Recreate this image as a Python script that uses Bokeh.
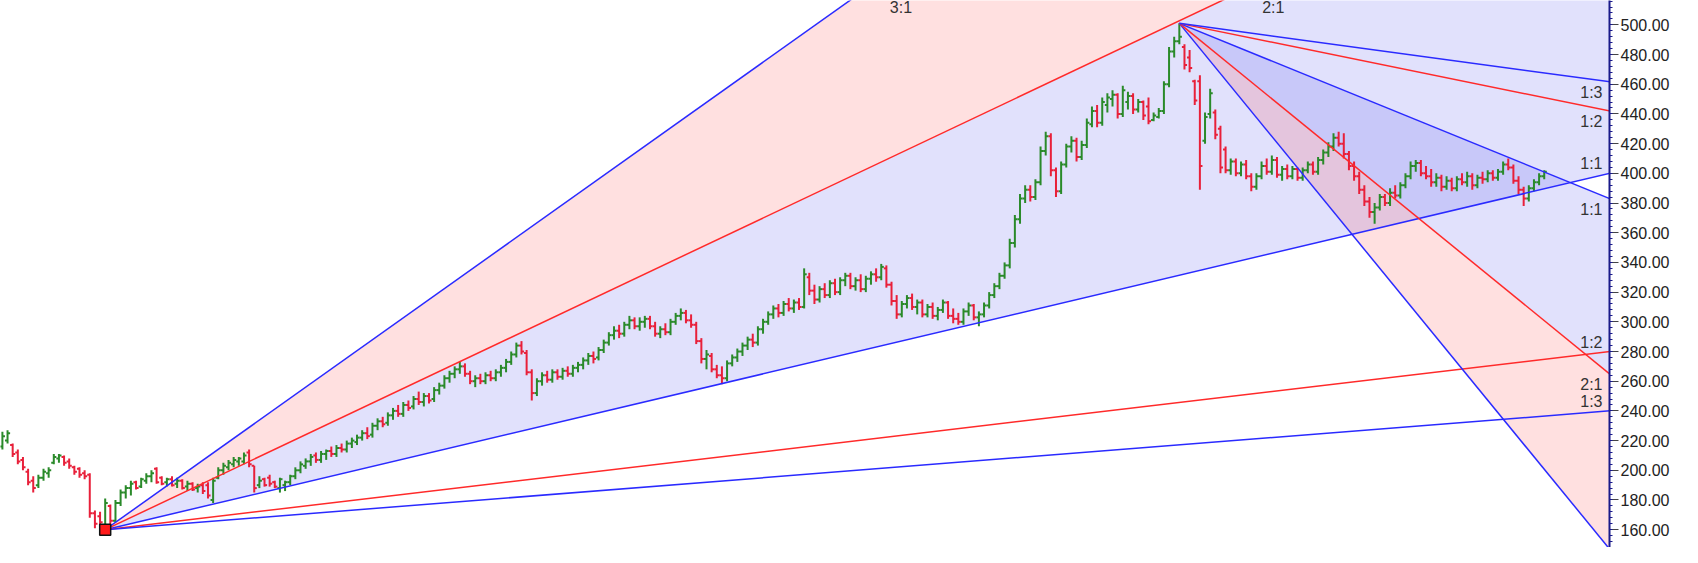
from bokeh.plotting import figure
from bokeh.models import Range1d, SingleIntervalTicker, NumeralTickFormatter, ColumnDataSource
from bokeh.core.properties import value
from bokeh.embed import file_html
from bokeh.resources import INLINE

opens = [216,220,217,212,207,199,193,190,195,198,
         205,208,209,206,202,201,198,197,171,169,
         163,176,166,178,185,188,192,189,193,196,
         201,195,192,194,191,193,189,191,188,190,
         190,180,195,200,202,204,206,206,212,203,
         190,194,195,192,188,190,192,196,200,203,
         206,210,207,211,213,211,215,214,218,219,
         222,225,224,230,233,232,237,240,238,244,
         243,248,246,250,248,254,257,262,265,268,
         270,265,260,262,260,264,262,266,269,273,
         278,284,279,266,252,260,264,261,266,263,
         267,265,269,271,274,277,276,281,286,291,
         294,292,298,301,297,300,302,297,292,295,
         293,300,304,306,301,298,287,275,277,268,
         264,262,272,276,280,284,288,286,295,300,
         305,309,306,312,309,313,310,330,321,315,
         322,318,326,320,328,331,324,328,322,329,
         332,330,336,325,314,305,312,316,310,313,
         305,310,304,308,313,304,302,300,307,311,
         303,305,311,318,324,331,338,353,369,383,
         389,384,394,415,425,402,388,406,418,422,
         411,419,433,442,434,446,450,453,440,448,
         452,443,448,445,436,438,442,460,482,489,
         485,478,462,462,422,440,441,430,416,402,
         408,400,406,398,391,398,405,401,409,399,
         403,398,403,397,402,406,401,409,414,418,
         424,420,413,405,398,389,381,374,377,384,
         380,387,385,392,398,405,407,400,398,394,
         397,391,395,390,396,394,398,392,397,396,
         400,397,401,406,404,395,389,383,390,394,398]

highs = [226,227,218,214,209,201,196,197,201,202,
         211,211,210,208,203,202,200,198,173,172,
         181,177,180,187,190,193,193,195,198,200,
         202,196,195,196,195,194,193,192,191,192,
         192,195,202,205,207,209,209,212,214,203,
         196,195,197,193,195,193,197,202,206,208,
         211,212,213,214,216,217,218,220,222,224,
         227,229,232,235,236,239,242,244,246,247,
         250,253,252,252,256,259,264,267,270,273,
         272,267,264,265,266,267,268,271,275,280,
         286,287,281,268,262,266,267,268,268,269,
         270,271,273,276,279,280,283,288,293,297,
         298,300,304,303,303,304,304,300,297,299,
         302,306,309,308,305,300,289,281,279,271,
         270,274,278,282,286,290,292,297,302,307,
         311,312,314,316,315,316,336,333,325,324,
         326,328,329,330,333,333,330,332,331,334,
         336,339,338,327,318,314,318,319,315,315,
         312,313,310,315,314,309,306,309,313,312,
         307,313,320,326,333,340,356,372,386,392,
         392,396,418,428,427,404,408,420,425,424,
         422,437,445,446,451,454,456,454,459,455,
         454,450,449,451,441,444,462,485,492,501,
         487,483,463,466,441,457,443,432,418,410,
         410,408,409,400,400,408,410,412,411,405,
         406,405,404,404,408,408,411,416,421,427,
         428,427,415,408,401,392,384,380,386,386,
         390,392,394,400,408,409,409,405,403,400,
         399,398,397,398,400,401,400,399,401,402,
         402,403,408,410,406,398,391,392,396,400,402]

lows = [214,218,209,204,200,190,185,188,193,195,
        204,205,203,201,197,195,194,168,161,162,
        160,163,165,176,181,183,187,188,191,192,
        191,190,189,189,188,187,186,186,185,184,
        181,178,194,197,200,202,203,204,202,185,
        188,189,189,188,185,186,190,194,198,201,
        203,205,205,207,209,209,212,212,215,217,
        220,221,222,227,229,230,234,236,236,240,
        241,244,243,245,246,251,255,259,262,265,
        263,258,256,258,258,260,260,263,266,271,
        276,278,264,247,250,257,259,259,261,261,
        263,263,266,268,271,272,274,279,284,288,
        289,290,295,295,294,296,295,290,289,291,
        291,298,301,299,296,285,272,268,266,262,
        258,260,270,273,277,281,283,284,292,298,
        302,303,304,307,306,308,309,318,312,313,
        316,316,318,318,324,322,321,320,320,325,
        327,328,323,311,302,303,309,308,305,303,
        303,302,301,306,302,299,298,298,304,301,
        297,303,309,316,322,329,336,350,366,380,
        381,382,392,412,398,384,386,404,414,408,
        409,417,431,431,432,441,445,437,438,443,
        440,441,436,433,435,437,440,458,478,487,
        470,468,446,389,420,437,423,400,400,399,
        398,398,396,388,389,396,399,399,397,395,
        396,396,395,395,400,399,399,406,411,415,
        418,410,402,395,386,378,370,366,375,378,
        378,383,383,390,396,401,398,396,391,391,
        388,389,388,388,392,391,389,390,393,394,
        395,395,399,402,393,386,378,381,388,392,396]

closes = [223,225,211,206,202,192,188,195,199,200,
          209,210,205,203,199,197,196,171,164,165,
          178,166,178,185,188,191,188,194,196,198,
          192,191,194,190,193,188,191,187,189,186,
          183,193,200,203,205,207,208,210,204,188,
          193,190,191,189,194,192,196,200,204,206,
          209,207,211,213,211,215,214,218,220,222,
          225,223,230,233,231,237,240,238,244,242,
          248,246,250,247,254,257,262,265,268,270,
          265,260,262,260,264,262,266,269,273,278,
          284,280,266,252,260,264,261,266,263,267,
          265,269,271,274,277,275,281,286,291,294,
          292,298,301,297,300,302,297,292,295,293,
          300,304,306,301,298,287,275,278,268,264,
          262,272,276,280,284,288,286,295,300,305,
          309,306,312,309,313,310,332,321,315,322,
          318,326,320,328,331,324,328,322,329,332,
          330,337,325,314,305,312,316,310,313,305,
          310,304,308,313,304,302,300,307,311,303,
          305,311,318,324,331,338,353,369,383,389,
          384,394,415,425,402,388,406,418,422,411,
          419,434,442,434,448,451,453,440,456,452,
          443,448,439,435,439,442,460,482,489,492,
          473,471,449,405,438,454,426,404,402,408,
          400,406,398,391,398,405,401,409,399,403,
          398,403,397,402,406,401,409,414,418,424,
          420,413,405,398,389,381,374,377,384,380,
          387,385,392,398,405,407,400,398,394,397,
          391,395,390,396,394,398,392,397,396,400,
          397,401,406,404,395,389,383,390,394,398,401]

idx = list(range(len(closes)))

low_pivot = (20, 160.0)
high_pivot = (229, 501.0)
low_unit = 240.0 / 292.7
high_unit = 118.0 / 83.7
ratios = [3.0, 2.0, 1.0, 0.5, 1.0 / 3.0]
ratio_labels = ["3:1", "2:1", "1:1", "1:2", "1:3"]
ratio_colors = ["#2a2aff", "#ff2a2a", "#2a2aff", "#ff2a2a", "#2a2aff"]

X0, X1 = -0.37, 312.7
Y0, Y1 = 148.0, 516.4

p = figure(width=1682, height=547, output_backend="svg", toolbar_location=None,
           x_range=Range1d(X0, X1), y_range=Range1d(Y0, Y1),
           y_axis_location="right", x_axis_location=None,
           min_border_left=0, min_border_top=0, min_border_bottom=0, min_border_right=73)
p.outline_line_color = None
p.grid.visible = False
p.background_fill_color = "white"
p.border_fill_color = "white"

ax = p.yaxis[0]
ax.ticker = SingleIntervalTicker(interval=20, num_minor_ticks=5)
ax.formatter = NumeralTickFormatter(format="0.00")
ax.axis_line_color = "#1a1a8a"
ax.axis_line_width = 2
ax.major_tick_out = 9
ax.major_tick_in = 0
ax.major_tick_line_color = "#444444"
ax.minor_tick_out = 3
ax.minor_tick_in = 0
ax.minor_tick_line_color = "#1a1a8a"
ax.major_label_text_font = "Liberation Sans"
ax.major_label_text_font_size = "16px"
ax.major_label_text_color = "#222222"
ax.major_label_standoff = 2

XFAR = 1000.0

def fan_y(pivot, unit, k, x, sign):
    return pivot[1] + sign * k * unit * (x - pivot[0])

def band(pivot, unit, ka, kb, sign, color, alpha):
    xs = [pivot[0], XFAR, XFAR]
    ys = [pivot[1], fan_y(pivot, unit, ka, XFAR, sign), fan_y(pivot, unit, kb, XFAR, sign)]
    p.patch(xs, ys, fill_color=color, fill_alpha=alpha, line_color=None)

band(low_pivot, low_unit, 3.0, 2.0, 1, "#ff0000", 0.12)
band(low_pivot, low_unit, 2.0, 1.0, 1, "#5050f0", 0.17)
band(high_pivot, high_unit, 1.0, 2.0, -1, "#5050f0", 0.17)
band(high_pivot, high_unit, 2.0, 3.0, -1, "#ff0000", 0.12)

up = [c >= o for o, c in zip(opens, closes)]
bar_cols = ["#2a8a2a" if u else "#e8203a" for u in up]
src = ColumnDataSource(dict(x=idx, o=opens, h=highs, l=lows, c=closes, col=bar_cols,
                            xl=[i - 0.5 for i in idx], xr=[i + 0.5 for i in idx]))
p.segment(x0="x", y0="l", x1="x", y1="h", color="col", line_width=2, source=src)
p.segment(x0="xl", y0="o", x1="x", y1="o", color="col", line_width=2, source=src)
p.segment(x0="x", y0="c", x1="xr", y1="c", color="col", line_width=2, source=src)

for pivot, unit, sign in [(low_pivot, low_unit, 1), (high_pivot, high_unit, -1)]:
    for k, col in zip(ratios, ratio_colors):
        p.line([pivot[0], XFAR], [pivot[1], fan_y(pivot, unit, k, XFAR, sign)],
               line_color=col, line_width=1.5)

FONT = value("Liberation Sans")
lx, ly, lt = [], [], []
for k, lab in zip(ratios, ratio_labels):
    yv = fan_y(low_pivot, low_unit, k, X1, 1)
    if Y0 < yv < Y1:
        lx.append(X1); ly.append(yv); lt.append(lab)
p.text(lx, ly, text=lt, text_align="right", text_baseline="bottom", x_offset=-7, y_offset=-1,
       text_font=FONT, text_font_size="16px", text_color="#333333")
hx, hy, ht = [], [], []
for k, lab in zip(ratios, ratio_labels):
    yv = fan_y(high_pivot, high_unit, k, X1, -1)
    if Y0 < yv < Y1:
        hx.append(X1); hy.append(yv); ht.append(lab)
p.text(hx, hy, text=ht, text_align="right", text_baseline="top", x_offset=-7, y_offset=2,
       text_font=FONT, text_font_size="16px", text_color="#333333")
tx, ty, tt = [], [], []
for k, lab in zip(ratios, ratio_labels):
    if fan_y(low_pivot, low_unit, k, X1, 1) > Y1:
        tx.append(low_pivot[0] + (Y1 - low_pivot[1]) / (k * low_unit)); ty.append(Y1); tt.append(lab)
p.text(tx, ty, text=tt, text_align="left", text_baseline="alphabetic", x_offset=40, y_offset=7,
       text_font=FONT, text_font_size="16px", text_color="#333333")

p.scatter([low_pivot[0]], [low_pivot[1]], marker="square", size=11,
          fill_color="#ff1a1a", line_color="#111111", line_width=1.5)

open("out.html", "w").write(file_html(p, INLINE))
